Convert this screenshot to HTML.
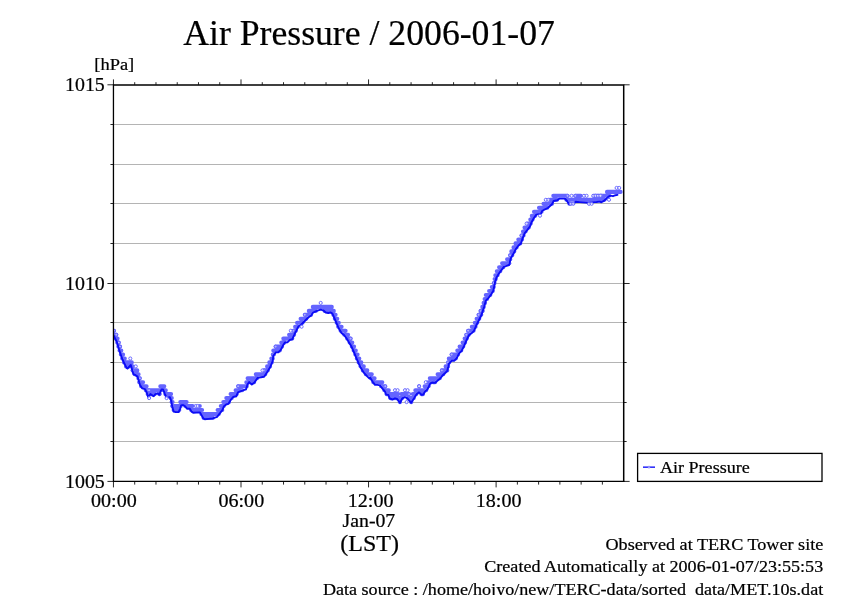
<!DOCTYPE html>
<html><head><meta charset="utf-8"><title>Air Pressure / 2006-01-07</title>
<style>html,body{margin:0;padding:0;background:#fff;overflow:hidden}svg{display:block;will-change:transform}text{font-family:"Liberation Serif",serif;fill:#000;stroke:#000;stroke-width:.22px}</style></head><body>
<svg width="842" height="595" viewBox="0 0 842 595">
<rect width="842" height="595" fill="#fff"/>
<path d="M113.45 124.50H623.65M113.45 164.50H623.65M113.45 203.50H623.65M113.45 243.50H623.65M113.45 283.50H623.65M113.45 322.50H623.65M113.45 362.50H623.65M113.45 402.50H623.65M113.45 441.50H623.65" stroke="#b4b4b4" stroke-width="1" fill="none"/>
<clipPath id="pc"><rect x="113.45" y="84.80" width="510.20" height="396.60"/></clipPath><g clip-path="url(#pc)">
<path d="M114.0 334.7H116.3M289.1 334.7H294.1M344.3 334.7H348.1M466.3 334.7H468.8M114.0 330.7H114.1M293.3 330.7H295.8M340.6 330.7H345.6M468.1 330.7H473.6M115.5 338.6H117.6M283.3 338.6H292.3M347.1 338.6H350.6M464.6 338.6H466.8M117.3 342.6H118.8M281.3 342.6H284.6M349.6 342.6H352.3M462.6 342.6H465.1M118.3 346.6H120.1M275.6 346.6H282.1M351.8 346.6H354.1M459.6 346.6H463.3M119.5 350.5H121.3M273.3 350.5H279.8M353.6 350.5H355.8M457.3 350.5H461.3M120.8 354.5H123.1M272.8 354.5H273.8M355.3 354.5H357.6M451.6 354.5H458.1M122.3 358.5H124.8M271.3 358.5H272.8M356.8 358.5H359.3M448.8 358.5H455.8M124.0 362.4H131.8M269.3 362.4H271.8M358.6 362.4H361.3M448.1 362.4H449.3M126.0 366.4H129.1M131.6 366.4H132.8M267.1 366.4H270.1M360.6 366.4H363.8M445.6 366.4H448.1M132.6 370.4H137.3M264.1 370.4H267.8M362.8 370.4H367.3M441.8 370.4H447.3M134.6 374.3H138.6M255.8 374.3H265.3M365.8 374.3H371.8M437.6 374.3H443.3M138.3 378.3H139.8M247.6 378.3H257.1M370.8 378.3H374.6M429.8 378.3H439.8M139.3 382.2H143.1M246.3 382.2H248.6M249.8 382.2H254.1M373.3 382.2H382.3M428.1 382.2H431.3M433.1 382.2H435.1M141.1 386.2H146.6M160.3 386.2H164.3M238.1 386.2H246.8M381.1 386.2H385.3M419.1 386.2H419.1M424.6 386.2H428.6M145.8 390.2H147.8M149.1 390.2H160.8M163.8 390.2H165.8M235.6 390.2H242.1M384.3 390.2H388.8M415.3 390.2H426.1M147.6 394.1H150.1M151.1 394.1H154.8M159.3 394.1H159.6M165.3 394.1H171.1M230.6 394.1H236.8M386.6 394.1H398.1M401.3 394.1H409.1M412.8 394.1H416.3M421.3 394.1H423.1M170.6 398.1H171.8M226.3 398.1H231.8M390.3 398.1H394.3M395.8 398.1H402.3M407.8 398.1H413.8M171.6 402.1H172.6M180.3 402.1H186.6M223.3 402.1H229.1M399.8 402.1H400.1M411.1 402.1H411.3M172.3 406.0H180.8M185.3 406.0H192.6M199.8 406.0H199.8M220.8 406.0H223.8M173.6 410.0H179.3M191.1 410.0H202.1M217.6 410.0H222.3M201.3 414.0H218.8M203.6 417.9H212.8M295.1 326.7H297.8M338.3 326.7H341.6M471.8 326.7H475.6M297.1 322.8H302.6M336.6 322.8H338.8M474.8 322.8H477.3M300.6 318.8H306.3M334.8 318.8H337.3M476.6 318.8H479.3M304.8 314.8H311.1M333.3 314.8H335.6M478.6 314.8H481.3M308.8 310.9H315.8M324.6 310.9H333.8M480.6 310.9H482.6M312.8 306.9H331.8M482.3 306.9H483.8M483.6 302.9H485.1M484.6 299.0H487.1M485.8 295.0H490.3M489.1 291.0H492.8M491.8 287.1H493.8M493.8 283.1H494.6M494.6 279.1H495.8M495.3 275.2H497.6M496.8 271.2H500.3M499.1 267.2H503.3M502.1 263.3H509.3M507.1 259.3H510.3M510.1 255.3H512.3M511.3 251.4H514.3M513.5 247.4H516.6M515.5 243.4H520.3M518.3 239.5H522.1M521.5 235.5H523.6M523.0 231.5H525.6M524.5 227.6H528.8M527.5 223.6H530.8M530.3 219.6H532.6M531.8 215.7H535.3M534.0 211.7H541.6M539.0 207.7H547.3M543.5 203.8H552.1M569.3 203.8H569.8M550.0 199.8H557.1M566.3 199.8H604.6M553.3 195.8H567.6M575.3 195.8H580.8M594.0 195.8H600.8M601.3 195.8H609.1M607.0 191.9H620.6" fill="none" stroke="#6464ff" stroke-width="4.1" stroke-linecap="round"/>
<g fill="#fff" fill-opacity="0.5" stroke="#6464ff" stroke-width="1"><circle cx="116.3" cy="334.7" r="1.45"/><circle cx="294.1" cy="334.7" r="1.45"/><circle cx="466.3" cy="334.7" r="1.45"/><circle cx="114.0" cy="330.7" r="1.45"/><circle cx="293.3" cy="330.7" r="1.45"/><circle cx="295.8" cy="330.7" r="1.45"/><circle cx="468.1" cy="330.7" r="1.45"/><circle cx="350.6" cy="338.6" r="1.45"/><circle cx="117.3" cy="342.6" r="1.45"/><circle cx="118.8" cy="342.6" r="1.45"/><circle cx="120.0" cy="346.6" r="1.45"/><circle cx="275.6" cy="346.6" r="1.45"/><circle cx="273.8" cy="354.5" r="1.45"/><circle cx="451.6" cy="354.5" r="1.45"/><circle cx="122.3" cy="358.5" r="1.45"/><circle cx="448.1" cy="362.4" r="1.45"/><circle cx="360.6" cy="366.4" r="1.45"/><circle cx="448.1" cy="366.4" r="1.45"/><circle cx="132.6" cy="370.4" r="1.45"/><circle cx="264.1" cy="370.4" r="1.45"/><circle cx="441.8" cy="370.4" r="1.45"/><circle cx="139.8" cy="378.3" r="1.45"/><circle cx="139.3" cy="382.2" r="1.45"/><circle cx="431.3" cy="382.2" r="1.45"/><circle cx="238.1" cy="386.2" r="1.45"/><circle cx="381.1" cy="386.2" r="1.45"/><circle cx="385.3" cy="386.2" r="1.45"/><circle cx="428.6" cy="386.2" r="1.45"/><circle cx="145.8" cy="390.2" r="1.45"/><circle cx="147.8" cy="390.2" r="1.45"/><circle cx="149.1" cy="390.2" r="1.45"/><circle cx="163.8" cy="390.2" r="1.45"/><circle cx="242.1" cy="390.2" r="1.45"/><circle cx="426.1" cy="390.2" r="1.45"/><circle cx="159.3" cy="394.1" r="1.45"/><circle cx="159.6" cy="394.1" r="1.45"/><circle cx="386.6" cy="394.1" r="1.45"/><circle cx="409.1" cy="394.1" r="1.45"/><circle cx="416.3" cy="394.1" r="1.45"/><circle cx="411.3" cy="402.1" r="1.45"/><circle cx="172.3" cy="406.0" r="1.45"/><circle cx="338.3" cy="326.7" r="1.45"/><circle cx="304.8" cy="314.8" r="1.45"/><circle cx="311.1" cy="314.8" r="1.45"/><circle cx="478.6" cy="314.8" r="1.45"/><circle cx="480.6" cy="310.9" r="1.45"/><circle cx="482.6" cy="310.9" r="1.45"/><circle cx="493.8" cy="283.1" r="1.45"/><circle cx="509.3" cy="263.3" r="1.45"/><circle cx="510.1" cy="255.3" r="1.45"/><circle cx="521.5" cy="235.5" r="1.45"/><circle cx="567.5" cy="195.8" r="1.45"/><circle cx="575.3" cy="195.8" r="1.45"/><circle cx="594.0" cy="195.8" r="1.45"/><circle cx="601.3" cy="195.8" r="1.45"/></g>
<polyline points="113.7,335.8 116.7,341.6 119.2,350.0 121.7,357.5 124.2,363.3 126.6,367.9 127.5,368.6 130.8,365.0 133.3,374.1 135.0,374.9 137.5,376.6 140.0,385.0 142.1,388.3 145.0,389.1 146.7,392.5 148.3,397.5 150.4,394.1 152.5,395.6 153.7,396.2 155.4,394.1 157.5,393.3 159.5,394.8 160.8,390.8 162.0,389.1 163.3,389.6 164.9,394.1 166.2,397.0 169.9,397.2 171.2,400.8 172.4,407.4 173.7,411.6 175.7,412.1 178.7,412.0 180.3,408.3 181.1,405.4 183.2,404.9 185.3,406.6 187.0,408.7 189.9,408.8 191.5,411.6 193.2,412.8 200.0,412.4 203.2,418.3 204.8,419.3 208.6,418.9 212.8,418.4 217.1,416.8 219.8,413.4 222.4,410.2 224.0,406.2 226.2,404.5 228.3,403.9 231.0,399.5 233.1,397.0 236.3,396.3 237.9,392.3 242.2,390.6 246.0,389.4 247.6,384.4 249.2,382.1 251.8,384.6 254.5,382.4 257.7,377.7 264.1,376.7 266.8,372.8 270.0,367.5 272.7,361.1 273.3,355.8 275.8,352.4 278.3,352.4 280.8,349.9 283.3,344.9 284.9,342.4 287.4,342.4 289.9,339.9 292.4,339.1 294.1,335.0 296.6,330.0 298.3,326.6 300.8,325.0 303.3,322.5 305.8,320.0 308.3,317.5 310.8,315.8 313.2,312.5 315.7,311.3 318.2,310.3 320.7,309.6 323.2,310.3 325.7,312.5 328.2,313.0 330.7,312.5 332.4,313.6 334.1,317.5 336.6,323.3 339.1,329.1 341.5,333.0 344.0,335.0 346.5,338.3 349.0,342.4 351.5,346.6 354.0,352.4 356.5,358.3 359.0,364.1 361.5,369.1 364.0,372.9 366.5,375.7 369.0,378.2 370.0,377.4 372.5,381.6 375.0,384.9 377.5,384.9 380.0,385.4 382.5,388.7 385.0,391.6 386.2,394.5 388.3,394.9 389.6,398.3 392.5,399.5 395.0,398.3 397.0,398.9 400.0,402.8 402.4,398.3 404.9,397.0 407.4,398.3 411.2,402.8 414.1,398.3 416.6,394.1 419.1,392.4 421.6,394.9 423.2,394.5 425.3,391.2 427.4,389.5 429.9,384.1 431.5,382.5 434.9,382.9 437.4,380.8 439.9,378.7 442.3,375.8 445.7,372.5 447.3,370.8 449.1,363.3 451.6,360.8 454.1,360.8 456.6,358.3 459.1,353.3 461.6,350.8 464.1,345.8 466.6,340.0 469.1,335.0 471.5,333.3 474.0,330.8 476.5,325.0 479.0,320.0 481.5,315.0 484.2,306.6 485.8,300.7 488.3,298.2 490.8,294.9 493.3,290.8 495.0,282.4 496.6,277.4 499.1,273.3 501.6,269.9 504.1,266.6 506.6,265.8 509.1,265.0 510.8,258.3 513.3,254.1 515.8,249.1 518.3,245.8 521.0,243.3 522.6,238.4 524.8,233.1 527.4,229.9 530.1,226.2 531.7,221.9 533.9,218.1 536.5,214.4 540.8,213.9 542.4,210.7 547.8,208.0 552.0,204.2 553.6,201.0 557.4,200.2 559.5,198.6 564.9,198.6 567.0,201.0 569.1,204.2 573.4,203.9 575.5,201.8 579.8,202.1 588.4,202.7 594.8,202.1 596.6,202.0 599.9,201.6 601.0,202.3 603.5,201.2 606.0,199.0 608.5,196.6 610.5,195.6 613.0,196.2 615.5,195.2 617.5,194.9" fill="none" stroke="#0c0cf5" stroke-width="1.9" stroke-linejoin="round" stroke-linecap="round"/>
<g fill="#fff" fill-opacity="0.75" stroke="#6464ff" stroke-width="0.95"><circle cx="320.7" cy="302.9" r="1.55"/><circle cx="301.6" cy="326.7" r="1.55"/><circle cx="290.8" cy="330.7" r="1.55"/><circle cx="262.5" cy="370.4" r="1.55"/><circle cx="130.3" cy="358.5" r="1.55"/><circle cx="135.8" cy="366.4" r="1.55"/><circle cx="149.1" cy="398.1" r="1.55"/><circle cx="195.7" cy="406.0" r="1.55"/><circle cx="197.6" cy="406.0" r="1.55"/><circle cx="166.6" cy="398.1" r="1.55"/><circle cx="395.0" cy="390.2" r="1.55"/><circle cx="397.6" cy="390.2" r="1.55"/><circle cx="405.0" cy="390.2" r="1.55"/><circle cx="407.6" cy="390.2" r="1.55"/><circle cx="406.6" cy="402.1" r="1.55"/><circle cx="419.1" cy="386.2" r="1.55"/><circle cx="425.8" cy="382.2" r="1.55"/><circle cx="526.6" cy="223.6" r="1.55"/><circle cx="540.0" cy="215.7" r="1.55"/><circle cx="545.8" cy="199.8" r="1.55"/><circle cx="548.4" cy="199.8" r="1.55"/><circle cx="571.6" cy="195.8" r="1.55"/><circle cx="584.0" cy="195.8" r="1.55"/><circle cx="586.6" cy="195.8" r="1.55"/><circle cx="593.2" cy="195.8" r="1.55"/><circle cx="595.6" cy="195.8" r="1.55"/><circle cx="598.0" cy="195.8" r="1.55"/><circle cx="600.4" cy="195.8" r="1.55"/><circle cx="570.8" cy="203.8" r="1.55"/><circle cx="573.3" cy="203.8" r="1.55"/><circle cx="589.0" cy="203.8" r="1.55"/><circle cx="591.6" cy="203.8" r="1.55"/><circle cx="609.0" cy="199.8" r="1.55"/><circle cx="616.6" cy="187.9" r="1.55"/><circle cx="619.2" cy="187.9" r="1.55"/></g>
</g>
<path d="M113.45 481.40v6M113.45 84.80v-5.4M134.71 481.40v3.2M134.71 84.80v-2.6M155.97 481.40v3.2M155.97 84.80v-2.6M177.22 481.40v3.2M177.22 84.80v-2.6M198.48 481.40v3.2M198.48 84.80v-2.6M219.74 481.40v3.2M219.74 84.80v-2.6M241.00 481.40v6M241.00 84.80v-5.4M262.26 481.40v3.2M262.26 84.80v-2.6M283.52 481.40v3.2M283.52 84.80v-2.6M304.77 481.40v3.2M304.77 84.80v-2.6M326.03 481.40v3.2M326.03 84.80v-2.6M347.29 481.40v3.2M347.29 84.80v-2.6M368.55 481.40v6M368.55 84.80v-5.4M389.81 481.40v3.2M389.81 84.80v-2.6M411.07 481.40v3.2M411.07 84.80v-2.6M432.32 481.40v3.2M432.32 84.80v-2.6M453.58 481.40v3.2M453.58 84.80v-2.6M474.84 481.40v3.2M474.84 84.80v-2.6M496.10 481.40v6M496.10 84.80v-5.4M517.36 481.40v3.2M517.36 84.80v-2.6M538.62 481.40v3.2M538.62 84.80v-2.6M559.88 481.40v3.2M559.88 84.80v-2.6M581.13 481.40v3.2M581.13 84.80v-2.6M602.39 481.40v3.2M602.39 84.80v-2.6M113.45 84.80h-6M623.65 84.80h6M113.45 124.50h-3M623.65 124.50h3M113.45 164.50h-3M623.65 164.50h3M113.45 203.50h-3M623.65 203.50h3M113.45 243.50h-3M623.65 243.50h3M113.45 283.50h-6M623.65 283.50h6M113.45 322.50h-3M623.65 322.50h3M113.45 362.50h-3M623.65 362.50h3M113.45 402.50h-3M623.65 402.50h3M113.45 441.50h-3M623.65 441.50h3M113.45 481.40h-6M623.65 481.40h6" stroke="#000" stroke-width="0.85" fill="none"/>
<path d="M113.45 84.20V482.00M112.85 481.35H624.25" stroke="#000" stroke-width="1.3" fill="none"/>
<path d="M113.45 84.90H624.45M623.70 84.80V482.00" stroke="#000" stroke-width="1.5" fill="none"/>
<rect x="637.6" y="453.4" width="184.4" height="28" fill="#fff" stroke="#000" stroke-width="1.3"/>
<path d="M643 467.15H655" stroke="#0808f8" stroke-width="1.35"/>
<circle cx="649" cy="467.15" r="1.0" fill="#ccccff" stroke="#7777ff" stroke-width="0.7"/>
<text transform="translate(660,472.8) scale(1.05,1)" font-size="17.2">Air Pressure</text>
<text x="183.2" y="45.4" font-size="35.7" stroke-width=".35">Air Pressure / 2006-01-07</text>
<text transform="translate(94.3,69.8) scale(1.06,1)" font-size="17.4">[hPa]</text>
<text transform="translate(104.8,91.3) scale(1.03,1)" font-size="19.3" text-anchor="end">1015</text>
<text transform="translate(104.8,289.6) scale(1.03,1)" font-size="19.3" text-anchor="end">1010</text>
<text transform="translate(104.8,487.9) scale(1.03,1)" font-size="19.3" text-anchor="end">1005</text>
<text transform="translate(113.9,507.3) scale(1.035,1)" font-size="19.4" text-anchor="middle">00:00</text>
<text transform="translate(241.3,507.3) scale(1.035,1)" font-size="19.4" text-anchor="middle">06:00</text>
<text transform="translate(370.6,507.3) scale(1.035,1)" font-size="19.4" text-anchor="middle">12:00</text>
<text transform="translate(498.6,507.3) scale(1.035,1)" font-size="19.4" text-anchor="middle">18:00</text>
<text x="368.9" y="527" font-size="19.8" text-anchor="middle">Jan-07</text>
<text x="369.6" y="551" font-size="24" text-anchor="middle">(LST)</text>
<text transform="translate(823.3,550) scale(1.05,1)" font-size="17.3" text-anchor="end">Observed at TERC Tower site</text>
<text transform="translate(823.2,572) scale(1.046,1)" font-size="17.3" text-anchor="end">Created Automatically at 2006-01-07/23:55:53</text>
<text transform="translate(823.2,594.7) scale(1.046,1)" font-size="17.3" text-anchor="end">Data source : /home/hojyo/new/TERC-data/sorted_data/MET.10s.dat</text>
</svg></body></html>
